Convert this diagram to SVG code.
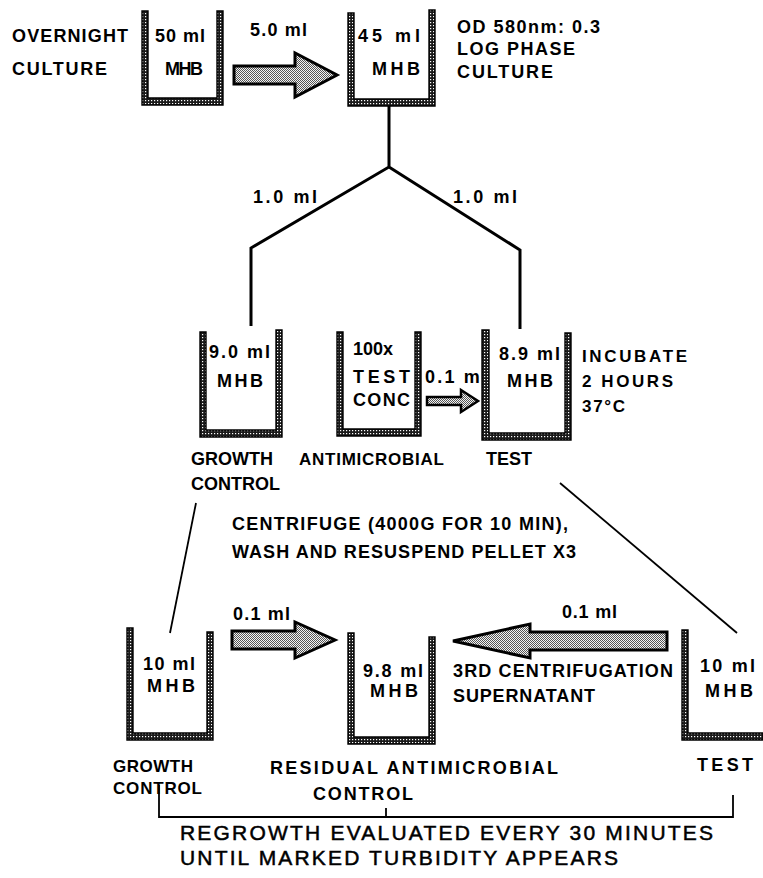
<svg xmlns="http://www.w3.org/2000/svg" width="763" height="878" viewBox="0 0 763 878">
<defs>
<pattern id="stip" width="3" height="3" patternUnits="userSpaceOnUse">
<rect width="3" height="3" fill="#1a1a1a"/>
<rect x="1" y="1" width="1.2" height="1.2" fill="#fff"/>
</pattern>
<pattern id="stipA" width="2" height="2" patternUnits="userSpaceOnUse">
<rect width="2" height="2" fill="#f4f4f4"/>
<rect width="1" height="1" fill="#555"/>
<rect x="1" y="1" width="1" height="1" fill="#555"/>
</pattern>
</defs>
<style>
.bk{fill:url(#stip);stroke:#000;stroke-width:1.4;stroke-linejoin:miter}
.ar{fill:url(#stipA);stroke:#000;stroke-width:3;stroke-linejoin:miter}
.t{font-family:"Liberation Sans",Arial,Helvetica,sans-serif;font-weight:bold;font-size:18px;fill:#000}
.s{font-family:"Liberation Sans",Arial,Helvetica,sans-serif;font-weight:bold;font-size:17px;fill:#000}
.r{font-family:"Liberation Sans",Arial,Helvetica,sans-serif;font-weight:normal;font-size:21px;fill:#000;stroke:#000;stroke-width:0.5}
.ln{fill:none;stroke:#000;stroke-width:3;stroke-linecap:butt;stroke-linejoin:miter}
.th{fill:none;stroke:#000;stroke-width:1.8}
</style>
<rect width="763" height="878" fill="#fff"/>

<g id="connectors">
<path class="ln" d="M389,106 V167 L251,248 V326 M389,167 L520,250 V329"/>
<path class="th" d="M196,503 L170,633"/>
<path class="th" d="M560,483 L737,633"/>
<path class="th" d="M159,785 V817 H733 V795 M386,808 V817"/>
<path class="ar" d="M234,66 H295 V53 L337,75 L295,97 V84 H234 Z"/>
<text class="t" x="250" y="36" textLength="57">5.0 ml</text>
<text class="t" x="253" y="203" textLength="64">1.0 ml</text>
<text class="t" x="453" y="203" textLength="64">1.0 ml</text>
<path class="ar" style="stroke-width:2.5" d="M427,397 H461 V390 L478,401 L461,412 V405 H427 Z"/>
<text class="t" x="425" y="383" textLength="62">0.1 ml</text>
<path class="ar" d="M232,631 H295 V622 L335,640 L295,658 V649 H232 Z"/>
<text class="t" x="233" y="620" textLength="57">0.1 ml</text>
<path class="ar" d="M453,641 L530,624 V632 H667 V650 H530 V658 Z"/>
<text class="t" x="562" y="618" textLength="55">0.1 ml</text>
</g>

<g id="overnight">
<text class="t" x="12" y="42" textLength="116">OVERNIGHT</text>
<text class="t" x="12" y="75" textLength="95">CULTURE</text>
<path class="bk" d="M142,11 H148 V98 H217 V11 H223 V105 H142 Z"/>
<text class="t" x="155" y="42" textLength="50">50 ml</text>
<text class="t" x="165" y="75" textLength="38">MHB</text>
</g>

<g id="logphase">
<path class="bk" d="M348,13 H354 V99 H429 V10 H435 V106 H348 Z"/>
<text class="t" x="358" y="42" textLength="62">45 ml</text>
<text class="t" x="372" y="75" textLength="48">MHB</text>
<text class="t" x="457" y="33" textLength="143">OD 580nm: 0.3</text>
<text class="t" x="457" y="55" textLength="118">LOG PHASE</text>
<text class="t" x="457" y="78" textLength="96">CULTURE</text>
</g>

<g id="growth1">
<path class="bk" d="M200,332 H206 V430 H276 V330 H282 V437 H200 Z"/>
<text class="t" x="209" y="358" textLength="61">9.0 ml</text>
<text class="t" x="217" y="387" textLength="46">MHB</text>
<text class="t" x="191" y="465" textLength="82">GROWTH</text>
<text class="t" x="191" y="490" textLength="89">CONTROL</text>
</g>

<g id="antimicrobial">
<path class="bk" d="M337,332 H343 V429 H415 V332 H421 V436 H337 Z"/>
<text class="t" x="353" y="355" textLength="40">100x</text>
<text class="t" x="353" y="383" textLength="57">TEST</text>
<text class="t" x="353" y="406" textLength="57">CONC</text>
<text class="s" x="299" y="465" textLength="145">ANTIMICROBIAL</text>
</g>

<g id="test1">
<path class="bk" d="M482,330 H489 V433 H565 V333 H571 V440 H482 Z"/>
<text class="t" x="499" y="360" textLength="61">8.9 ml</text>
<text class="t" x="507" y="387" textLength="46">MHB</text>
<text class="s" x="582" y="362" textLength="105">INCUBATE</text>
<text class="s" x="582" y="387" textLength="91">2 HOURS</text>
<text class="s" x="582" y="412" textLength="43">37°C</text>
<text class="t" x="486" y="465" textLength="46">TEST</text>
</g>

<g id="centrifuge">
<text class="t" x="232" y="530" textLength="336">CENTRIFUGE (4000G FOR 10 MIN),</text>
<text class="t" x="232" y="558" textLength="344">WASH AND RESUSPEND PELLET X3</text>
</g>

<g id="growth2">
<path class="bk" d="M127,628 H133 V733 H207 V632 H213 V740 H127 Z"/>
<text class="t" x="143" y="670" textLength="52">10 ml</text>
<text class="t" x="147" y="692" textLength="48">MHB</text>
<text class="s" x="113" y="772" textLength="80">GROWTH</text>
<text class="s" x="113" y="794" textLength="89">CONTROL</text>
</g>

<g id="residual">
<path class="bk" d="M348,633 H354 V737 H429 V637 H435 V744 H348 Z"/>
<text class="t" x="363" y="677" textLength="60">9.8 ml</text>
<text class="t" x="370" y="697" textLength="48">MHB</text>
<text class="t" x="270" y="774" textLength="288">RESIDUAL ANTIMICROBIAL</text>
<text class="t" x="313" y="800" textLength="100">CONTROL</text>
</g>

<g id="supernatant">
<text class="t" x="453" y="677" textLength="220">3RD CENTRIFUGATION</text>
<text class="t" x="453" y="702" textLength="142">SUPERNATANT</text>
</g>

<g id="test2">
<path class="bk" d="M682,630 H688 V733 H763 V740 H682 Z"/>
<text class="t" x="700" y="672" textLength="55">10 ml</text>
<text class="t" x="705" y="697" textLength="48">MHB</text>
<text class="t" x="697" y="771" textLength="56">TEST</text>
</g>

<g id="regrowth">
<text class="r" x="180" y="840" textLength="533">REGROWTH EVALUATED EVERY 30 MINUTES</text>
<text class="r" x="180" y="865" textLength="438">UNTIL MARKED TURBIDITY APPEARS</text>
</g>
</svg>
